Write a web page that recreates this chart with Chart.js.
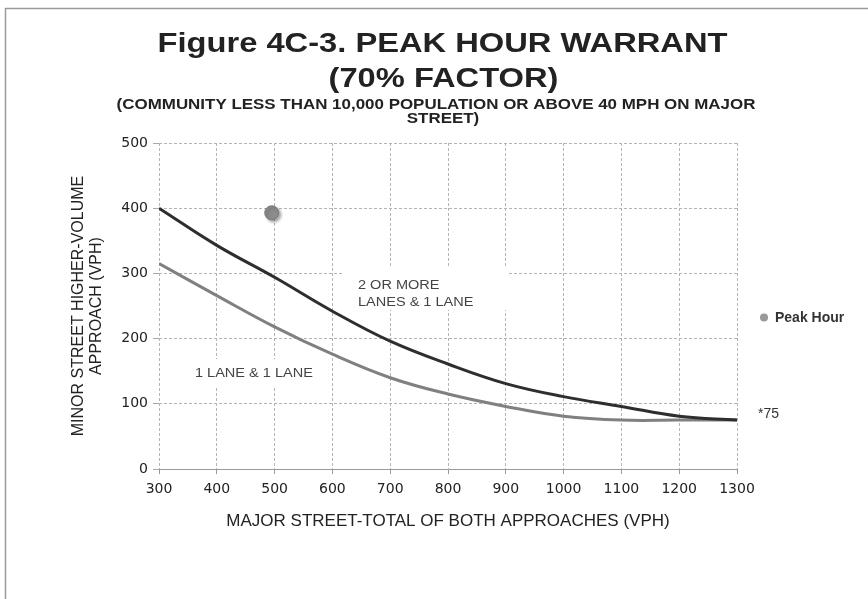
<!DOCTYPE html>
<html>
<head>
<meta charset="utf-8">
<script src="https://cdn.jsdelivr.net/npm/chart.js@4.4.1/dist/chart.umd.min.js"></script>
<style>
  body { margin: 0; background: #fff; }
  canvas { display: block; }
</style>
</head>
<body>
<canvas id="warrant" width="868" height="599"></canvas>
<script>
// values
const majorStreet = [300, 400, 500, 600, 700, 800, 900, 1000, 1100, 1200, 1300];
const twoOrMoreLanes = [400, 343, 294, 242, 196, 161, 131, 111, 96, 81, 75];
const oneLane = [315, 266, 218, 176, 140, 115, 96, 81, 75, 75, 75];
const peakHourX = [495];
const peakHourY = [393];
const titleLines = ['Figure 4C-3. PEAK HOUR WARRANT', '(70% FACTOR)'];
const subtitleLines = ['(COMMUNITY LESS THAN 10,000 POPULATION OR ABOVE 40 MPH ON MAJOR', 'STREET)'];

function pairs(xs, ys) {
    return xs.map((x, i) => ({ x: x, y: ys[i] }));
}

// the source image is stretched sideways, so the text is too
function wideText(c, text, x, y, font, align) {
    c.save();
    c.font = font;
    c.textAlign = align;
    c.textBaseline = 'alphabetic';
    c.translate(x, y);
    c.scale(1.21, 1);
    c.fillText(text, 0, 0);
    c.restore();
}

const extras = {
    id: 'extras',
    beforeDraw(chart) {
        const c = chart.ctx;
        c.save();
        c.fillStyle = '#fff';
        c.fillRect(0, 0, chart.width, chart.height);
        c.strokeStyle = '#9a9a9a';
        c.lineWidth = 1.5;
        c.strokeRect(5.5, 8.5, 900, 700);
        c.restore();
    },
    beforeDatasetsDraw(chart) {
        const c = chart.ctx;
        c.save();
        c.fillStyle = '#fff';
        c.fillRect(343, 268, 165, 42);
        c.fillRect(190, 359, 128, 28);
        c.fillStyle = '#444';
        wideText(c, '2 OR MORE', 358, 289, '12px "Liberation Sans"', 'left');
        wideText(c, 'LANES & 1 LANE', 358, 306, '12px "Liberation Sans"', 'left');
        wideText(c, '1 LANE & 1 LANE', 195, 377, '12px "Liberation Sans"', 'left');
        c.restore();
    },
    beforeDatasetDraw(chart, args) {
        if (args.index === 2) {
            const c = chart.ctx;
            c.save();
            c.shadowColor = 'rgba(0,0,0,0.35)';
            c.shadowOffsetX = 2;
            c.shadowOffsetY = 2;
            c.shadowBlur = 3;
        }
    },
    afterDatasetDraw(chart, args) {
        if (args.index === 2) chart.ctx.restore();
    },
    afterDraw(chart) {
        const c = chart.ctx;
        c.save();
        c.fillStyle = '#222';
        wideText(c, titleLines[0], 442.5, 52, 'bold 27px "Liberation Sans"', 'center');
        wideText(c, titleLines[1], 443.5, 87, 'bold 27px "Liberation Sans"', 'center');
        wideText(c, subtitleLines[0], 436, 108.5, 'bold 14px "Liberation Sans"', 'center');
        wideText(c, subtitleLines[1], 443, 123, 'bold 14px "Liberation Sans"', 'center');

        // legend
        c.fillStyle = '#999';
        c.beginPath();
        c.arc(764, 317.5, 4, 0, Math.PI * 2);
        c.fill();
        c.fillStyle = '#333';
        c.font = 'bold 14px "Liberation Sans"';
        c.textAlign = 'left';
        c.fillText('Peak Hour', 775, 322);
        c.font = '14px "Liberation Sans"';
        c.fillText('*75', 758, 418);
        c.restore();
    }
};

const ctx = document.getElementById('warrant').getContext('2d');
var config = {
    type: 'line',
    data: {
        datasets: [{
            label: '2 OR MORE LANES & 1 LANE',
            data: pairs(majorStreet, twoOrMoreLanes),
            borderColor: '#2e2e2e',
            borderWidth: 3,
            pointRadius: 0,
            tension: 0.4,
            fill: false
        }, {
            label: '1 LANE & 1 LANE',
            data: pairs(majorStreet, oneLane),
            borderColor: '#808080',
            borderWidth: 3,
            pointRadius: 0,
            tension: 0.4,
            fill: false
        }, {
            label: 'Peak Hour',
            data: pairs(peakHourX, peakHourY),
            showLine: false,
            pointRadius: 7,
            pointHoverRadius: 7,
            backgroundColor: '#8c8c8c',
            borderColor: '#7c7c7c',
            borderWidth: 1
        }]
    },
    options: {
        responsive: false,
        animation: false,
        devicePixelRatio: 1,
        layout: { padding: { left: 70, right: 131, top: 143, bottom: 60 } },
        plugins: {
            legend: { display: false },
            tooltip: { enabled: false }
        },
        scales: {
            x: {
                type: 'linear',
                min: 300,
                max: 1300,
                afterFit: s => { s.height = 70; },
                ticks: {
                    stepSize: 100,
                    padding: 7,
                    color: '#222',
                    font: { family: 'DejaVu Sans', size: 14 },
                    callback: v => String(v)
                },
                grid: { color: '#b4b4b4', tickLength: 5, tickColor: '#999', tickBorderDash: [] },
                border: { display: true, color: '#999', width: 1, dash: [3, 2] },
                title: {
                    display: true,
                    text: 'MAJOR STREET-TOTAL OF BOTH APPROACHES (VPH)',
                    color: '#222',
                    font: { family: 'Liberation Sans', size: 17 },
                    padding: { top: 0, bottom: 7 }
                }
            },
            y: {
                min: 0,
                max: 500,
                afterFit: s => { s.width = 89; },
                ticks: {
                    stepSize: 100,
                    padding: 5,
                    color: '#222',
                    font: { family: 'DejaVu Sans', size: 14 }
                },
                grid: { color: '#b4b4b4', tickLength: 6, tickColor: '#aaa', tickBorderDash: [] },
                border: { display: false, dash: [3, 2] },
                title: {
                    display: true,
                    text: ['MINOR STREET HIGHER-VOLUME', 'APPROACH (VPH)'],
                    color: '#222',
                    font: { family: 'Liberation Sans', size: 16, lineHeight: 1.1 },
                    padding: 0
                }
            }
        }
    },
    plugins: [extras]
};

const warrant = new Chart(ctx, config);
</script>
</body>
</html>
